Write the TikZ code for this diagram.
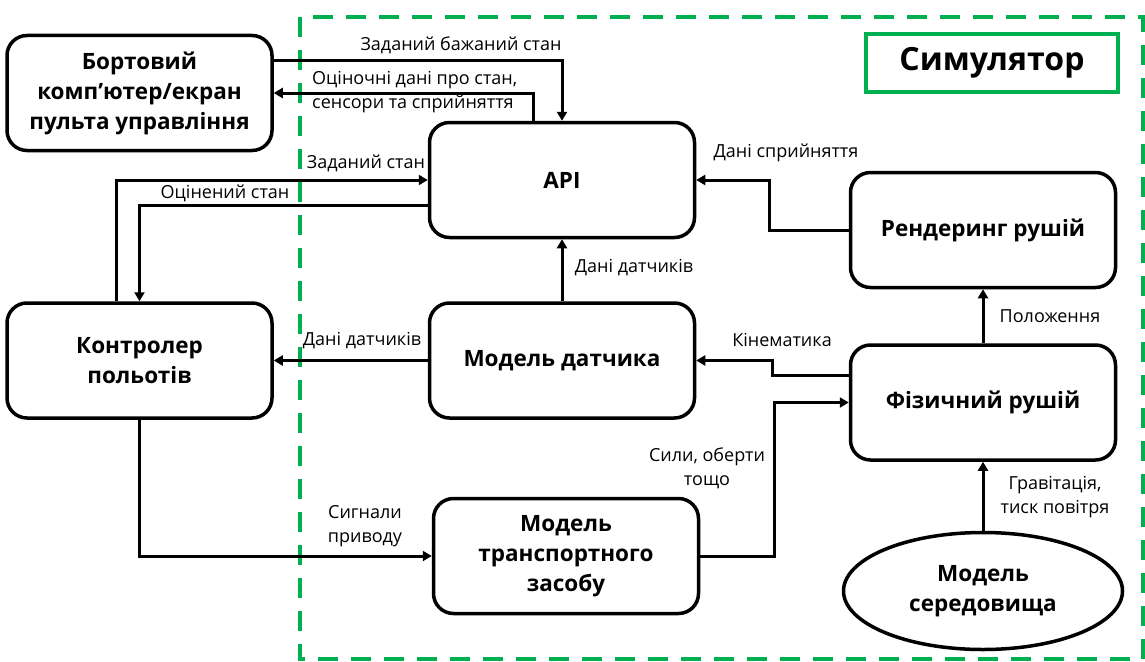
\documentclass[tikz,border=0pt]{standalone}
\usepackage{fontspec}
\setmainfont{Open Sans}
\usetikzlibrary{arrows.meta, positioning, shapes.geometric}

\definecolor{simgreen}{RGB}{0,176,80}

\tikzset{
  block/.style={draw, line width=3.5pt, rounded corners=20pt, align=center,
    minimum width=265pt, minimum height=115pt, inner sep=4pt,
    font=\fontsize{22.5}{30}\selectfont\bfseries},
  envblock/.style={draw, ellipse, line width=3.5pt, align=center,
    minimum width=279pt, minimum height=117pt, inner sep=2pt,
    font=\fontsize{22.5}{30}\selectfont\bfseries},
  lbl/.style={align=center, inner sep=1pt, font=\fontsize{18}{24}\selectfont},
  flow/.style={line width=3pt, -{Triangle[length=9pt,width=10pt]}},
  simframe/.style={draw=simgreen, line width=4pt, dash pattern=on 20pt off 13pt},
  simtitle/.style={draw=simgreen, line width=4pt, minimum width=252pt, minimum height=57pt,
    font=\fontsize{32}{36}\selectfont\bfseries}
}

\begin{document}
\begin{tikzpicture}[x=1pt, y=-1pt, node distance=60pt]
    \useasboundingbox (0,0) rectangle (1145,661);

    % Рамка симулятора
    \draw[simframe] (300,17) rectangle (1143,659);
    \node (simtitle) [simtitle] at (992,63) {Симулятор};

    % Блоки
    \node (api) [block] at (562,180) {API};
    \node (sensor) [block, below=62pt of api] {Модель датчика};
    \node (control) [block, left=154pt of sensor] {Контролер\\польотів};
    \node (bort) [block, above=149pt of control] {Бортовий\\комп’ютер/екран\\пульта управління};
    \node (render) [block] at (983,230) {Рендеринг рушій};
    \node (physics) [block, below=54pt of render] {Фізичний рушій};
    \node (vehicle) [block] at (566,556) {Модель\\транспортного\\засобу};
    \node (environ) [envblock] at (983,591) {Модель\\середовища};

    % Зв'язки
    \draw[flow] ([yshift=32pt]bort.east) -| (api.north);
    \draw[flow] ([xshift=-29pt]api.north) |- (bort.east);
    \draw[flow] ([xshift=-23pt]control.north) |- (api.west);
    \draw[flow] ([yshift=-25pt]api.west) -| (control.north);
    \draw[flow] (sensor.north) -- (api.south);
    \draw[flow] (sensor.west) -- (control.east);
    \draw[flow] (render.west) -- ++(-79pt,0) |- (api.east);
    \draw[flow] (physics.north) -- (render.south);
    \draw[flow] ([yshift=27pt]physics.west) -- ++(-76pt,0) |- (sensor.east);
    \draw[flow] (vehicle.east) -- ++(74pt,0) |- (physics.west);
    \draw[flow] (environ.north) -- (physics.south);
    \draw[flow] (control.south) |- (vehicle.west);

    % Підписи
    \node (lbldesired) [lbl] at (461,45) {Заданий бажаний стан};
    \node (lblestdata) [lbl, align=left, anchor=west] at (311,92) {Оціночні дані про стан,\\сенсори та сприйняття};
    \node (lblset) [lbl] at (366,163) {Заданий стан};
    \node (lblestim) [lbl] at (225,193) {Оцінений стан};
    \node (lblsensup) [lbl] at (634,268) {Дані датчиків};
    \node (lblsensleft) [lbl] at (362,341) {Дані датчиків};
    \node (lblperc) [lbl] at (786,153) {Дані сприйняття};
    \node (lblpos) [lbl] at (1050,316) {Положення};
    \node (lblkin) [lbl] at (782,340) {Кінематика};
    \node (lblforce) [lbl] at (707,468) {Сили, оберти\\тощо};
    \node (lblgrav) [lbl] at (1055,497) {Гравітація,\\тиск повітря};
    \node (lblsig) [lbl] at (365,526) {Сигнали\\приводу};
\end{tikzpicture}
\end{document}
